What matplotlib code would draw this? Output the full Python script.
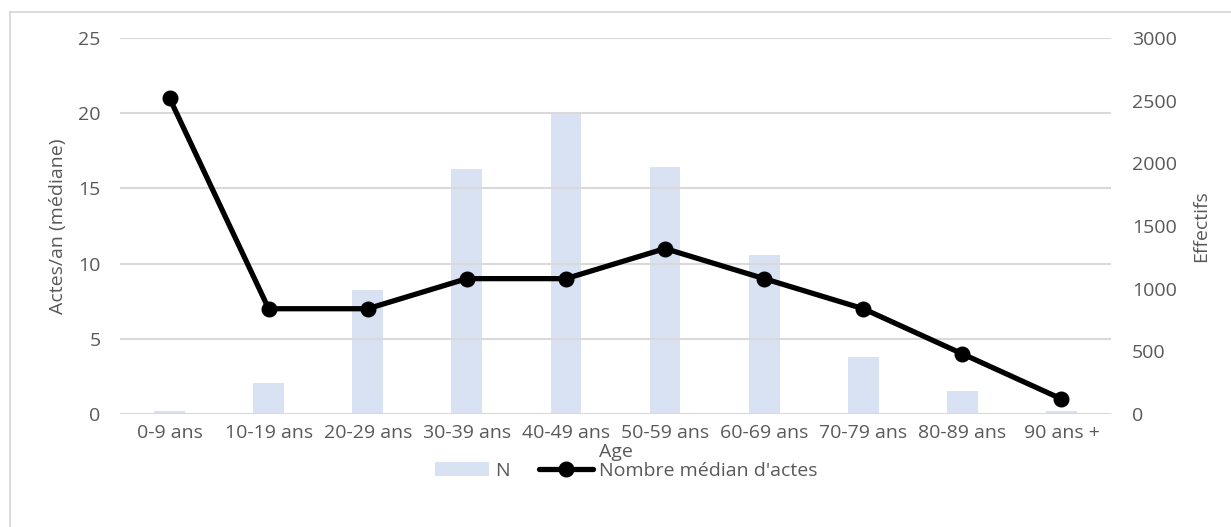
import matplotlib
matplotlib.use("Agg")
import matplotlib.pyplot as plt
from matplotlib.lines import Line2D

# Data
categories = ["0-9 ans", "10-19 ans", "20-29 ans", "30-39 ans", "40-49 ans",
              "50-59 ans", "60-69 ans", "70-79 ans", "80-89 ans", "90 ans +"]
effectifs = [20, 250, 990, 1955, 2395, 1970, 1270, 455, 180, 25]
actes_median = [21, 7, 7, 9, 9, 11, 9, 7, 4, 1]

left_ticks = [0, 5, 10, 15, 20, 25]
right_ticks = [0, 500, 1000, 1500, 2000, 2500, 3000]

TEXT = "#595959"
GRID = "#D9D9D9"
BAR = "#D9E2F3"

plt.rcParams["font.family"] = ["Open Sans", "DejaVu Sans"]

W, H = 1231, 527
fig = plt.figure(figsize=(W / 100, H / 100), dpi=100)

# Frame around the chart area
fig.add_artist(Line2D([10 / W, 10 / W], [0, 1 - 12 / H], transform=fig.transFigure,
                      color=GRID, lw=1.3))
fig.add_artist(Line2D([10 / W, 1], [1 - 12 / H, 1 - 12 / H], transform=fig.transFigure,
                      color=GRID, lw=1.3))

ax = fig.add_axes([120 / W, (H - 414) / H, 991 / W, 376 / H])
ax2 = ax.twinx()

x = list(range(len(categories)))

# Bars on the secondary axis, drawn behind the line
bars = ax2.bar(x, effectifs, width=0.31, color=BAR, zorder=1)
ax2.set_ylim(0, 3000)
ax2.set_yticks(right_ticks)

ax.set_ylim(0, 25)
ax.set_yticks(left_ticks)
ax.set_xlim(-0.5, len(categories) - 0.5)
ax.set_xticks(x)
ax.set_xticklabels(categories)

# Put the line axis in front of the bars
ax.set_zorder(ax2.get_zorder() + 1)
ax.patch.set_visible(False)

for t in left_ticks:
    ax.axhline(t, color=GRID, lw=1.5, zorder=0)

line, = ax.plot(x, actes_median, color="black", lw=3.8, marker="o",
                markersize=10.5, zorder=3, solid_capstyle="round")

FS = 14
for a in (ax, ax2):
    for s in a.spines.values():
        s.set_visible(False)
    a.tick_params(length=0, colors=TEXT, labelsize=FS)

ax.tick_params(axis="y", pad=14)
ax.tick_params(axis="x", pad=7)
ax2.tick_params(axis="y", pad=15)

ax.set_ylabel("Actes/an (médiane)", color=TEXT, fontsize=FS, labelpad=8)
ax2.set_ylabel("Effectifs", color=TEXT, fontsize=FS, labelpad=11)
ax.set_xlabel("Age", color=TEXT, fontsize=FS, labelpad=1)

leg = fig.legend([bars, line], ["N", "Nombre médian d'actes"],
                 loc="center", bbox_to_anchor=(626 / W, 1 - 471 / H), ncol=2,
                 frameon=False, fontsize=FS, handlelength=2.8,
                 handletextpad=0.3, columnspacing=1.5, labelcolor=TEXT)

fig.savefig("out.png", dpi=100, facecolor="white")
